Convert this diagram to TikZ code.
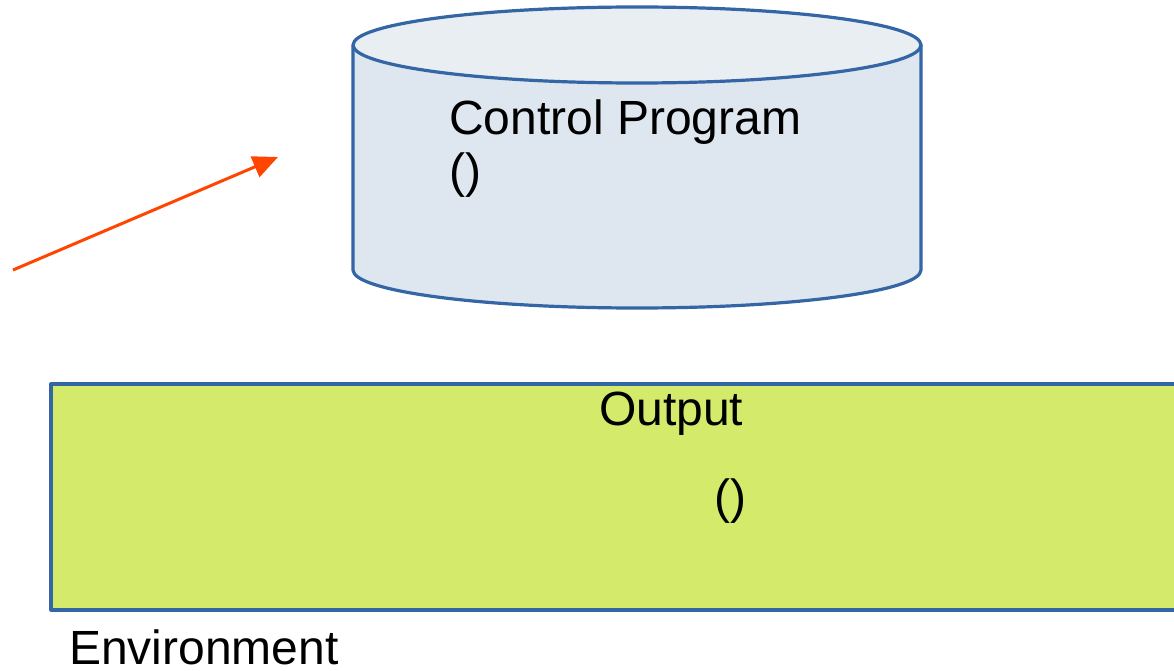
\documentclass[tikz,border=0pt]{standalone}
\usepackage{fontspec}
\setmainfont{Liberation Sans}
\usetikzlibrary{arrows.meta}
\definecolor{edgeblue}{HTML}{3465A4}
\definecolor{bodyfill}{HTML}{DEE6EF}
\definecolor{topfill}{HTML}{E9EEF3}
\definecolor{envfill}{HTML}{D4EA6B}
\definecolor{arrowred}{HTML}{FF4500}
\tikzset{
  shapeline/.style={draw=edgeblue, line width=3.2pt, line join=round},
  label/.style={inner sep=0pt, font=\fontsize{48}{53}\selectfont, text=black},
  pointer/.style={draw=arrowred, line width=3pt, -{Triangle[length=25pt,width=22pt]}}
}
\begin{document}
\begin{tikzpicture}[x=1pt, y=-1pt]
\useasboundingbox (0,0) rectangle (1174,671);
\clip (0,0) rectangle (1174,671);

% environment block (runs past the right edge)
\path[shapeline, fill=envfill] (51,384) rectangle (1190,610);

% control program cylinder
\path[shapeline, fill=bodyfill]
  (353,45) -- (353,270) arc[start angle=180, end angle=360, x radius=284, y radius=-38]
  -- (921,45) -- cycle;
\path[shapeline, fill=topfill] (637,45) ellipse[x radius=284, y radius=38];

\node[label, anchor=north west, align=left] (prog) at (449,100) {Control Program\\()};
\node[label, anchor=base west] (out) at (599,425) {Output};
\node[label, anchor=base west] (outargs) at (714,513) {()};
\node[label, anchor=base west] (env) at (69,664) {Environment};

% pointer arrow
\coordinate (pstart) at (13,270);
\coordinate (ptip) at (278,157);
\draw[pointer] (pstart) -- (ptip);
\end{tikzpicture}
\end{document}
